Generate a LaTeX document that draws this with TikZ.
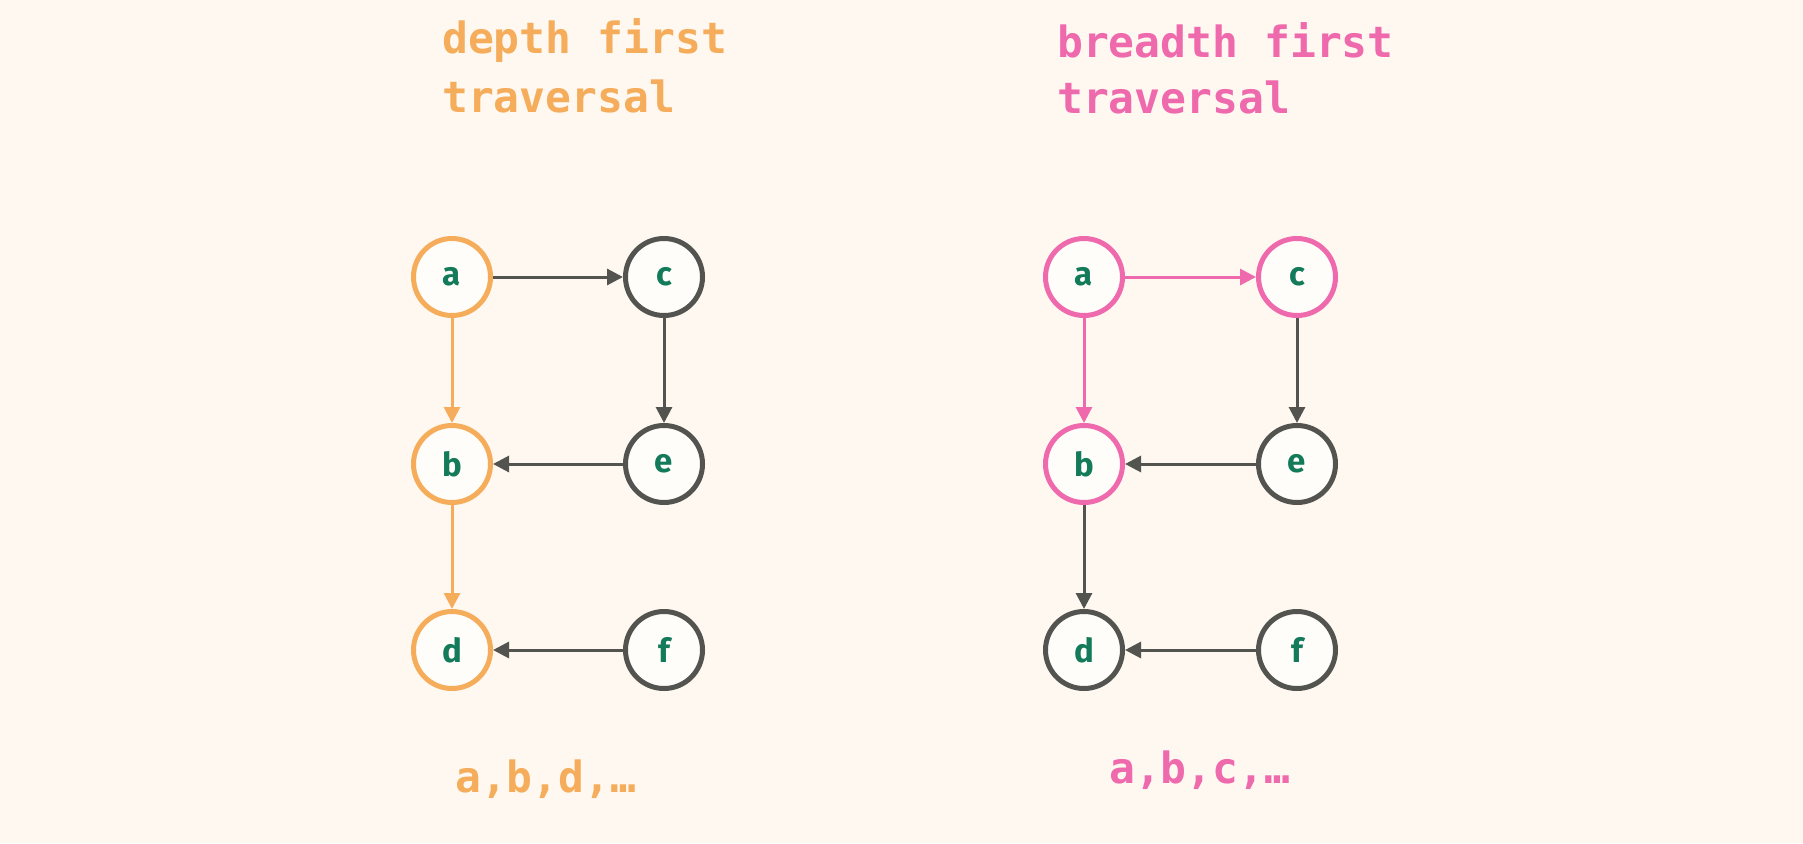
\documentclass[tikz,border=0pt]{standalone}
\usepackage{fontspec}
\setmainfont{Fira Sans}
\newfontfamily\monob{DejaVu Sans Mono}
\usetikzlibrary{arrows.meta}
\definecolor{bgc}{HTML}{FEF8F0}
\definecolor{orng}{HTML}{F5AD5B}
\definecolor{pnk}{HTML}{EF69AD}
\definecolor{dgray}{HTML}{53534F}
\definecolor{grn}{HTML}{137A5A}
\definecolor{nfill}{HTML}{FFFDFA}
\tikzset{
  vtx/.style={circle, draw=dgray, line width=5pt, fill=nfill, minimum size=77pt, inner sep=0pt,
    font=\fontsize{33pt}{33pt}\selectfont\bfseries, text=grn},
  vorng/.style={vtx, draw=orng},
  vpnk/.style={vtx, draw=pnk},
  edg/.style={draw=dgray, line width=3pt, -{Triangle[length=16pt,width=16pt]}},
  eorng/.style={edg, draw=orng, fill=orng},
  epnk/.style={edg, draw=pnk, fill=pnk},
  ttl/.style={anchor=base west, inner sep=0pt, font=\monob\fontsize{43pt}{43pt}\selectfont\bfseries},
}
\begin{document}
\begin{tikzpicture}[x=1pt,y=-1pt]
\fill[bgc] (0,0) rectangle (1803,843);
\useasboundingbox (0,0) rectangle (1803,843);
% titles
\node[ttl, text=orng] (t1a) at (442,54) {depth first};
\node[ttl, text=orng] (t1b) at (442,112) {traversal};
\node[ttl, text=pnk] (t2a) at (1057,57) {breadth first};
\node[ttl, text=pnk] (t2b) at (1057,113) {traversal};
% left graph
\node[vorng] (la) at (452,277) {a};
\node[vtx] (lc) at (664,277) {c};
\node[vorng] (lb) at (452,464) {b};
\node[vtx] (le) at (664,464) {e};
\node[vorng] (ld) at (452,650) {d};
\node[vtx] (lf) at (664,650) {f};
\draw[edg] (la) -- (lc);
\draw[eorng] (la) -- (lb);
\draw[edg] (lc) -- (le);
\draw[edg] (le) -- (lb);
\draw[eorng] (lb) -- (ld);
\draw[edg] (lf) -- (ld);
% right graph
\node[vpnk] (ra) at (1084,277) {a};
\node[vpnk] (rc) at (1297,277) {c};
\node[vpnk] (rb) at (1084,464) {b};
\node[vtx] (re) at (1297,464) {e};
\node[vtx] (rd) at (1084,650) {d};
\node[vtx] (rf) at (1297,650) {f};
\draw[epnk] (ra) -- (rc);
\draw[epnk] (ra) -- (rb);
\draw[edg] (rc) -- (re);
\draw[edg] (re) -- (rb);
\draw[edg] (rb) -- (rd);
\draw[edg] (rf) -- (rd);
% results
\node[ttl, text=orng] (r1) at (455,792) {a,b,d,…};
\node[ttl, text=pnk] (r2) at (1109,783) {a,b,c,…};
\end{tikzpicture}
\end{document}
